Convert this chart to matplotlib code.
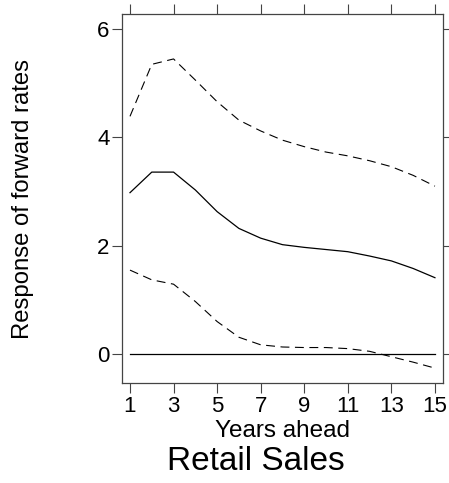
import numpy as np
import matplotlib
matplotlib.use("Agg")
import matplotlib.pyplot as plt

plt.rcParams['font.family'] = ['Liberation Sans', 'DejaVu Sans']

# impulse response of forward rates to a retail sales shock
years = np.arange(1, 16)
response = [2.98, 3.36, 3.36, 3.03, 2.63, 2.32, 2.14, 2.02, 1.97, 1.93,
            1.89, 1.81, 1.72, 1.58, 1.41]
upper_band = [4.39, 5.35, 5.45, 5.06, 4.66, 4.32, 4.12, 3.95, 3.83, 3.73,
              3.66, 3.57, 3.46, 3.30, 3.10]
lower_band = [1.55, 1.37, 1.29, 0.97, 0.60, 0.31, 0.17, 0.13, 0.12, 0.12,
              0.10, 0.05, -0.05, -0.15, -0.26]
xticks = [1, 3, 5, 7, 9, 11, 13, 15]
yticks = [0, 2, 4, 6]

W, H = 449, 483
fig = plt.figure(figsize=(W / 100, H / 100), dpi=100)
ax = fig.add_axes([122 / W, 1 - 383 / H, 321 / W, 369 / H])

ax.plot(years, np.zeros(len(years)), color='black', lw=0.9)
ax.plot(years, response, color='black', lw=0.9)
ax.plot(years, upper_band, color='black', lw=0.8, linestyle=(0, (8, 5)))
ax.plot(years, lower_band, color='black', lw=0.8, linestyle=(0, (8, 5)))

ax.set_xlim(0.633, 15.37)
ax.set_ylim(-0.535, 6.28)
ax.set_xticks(xticks)
ax.set_yticks(yticks)
ax.tick_params(axis='both', direction='out', length=7, width=0.8,
               color='#444444', labelsize=16, pad=2,
               top=True, right=True, labeltop=False, labelright=False)

for side in ax.spines.values():
    side.set_color('#444444')
    side.set_linewidth(0.9)

# axis titles placed in figure pixels
fig.text(282.5 / W, 1 - 437 / H, 'Years ahead', fontsize=17.5,
         ha='center', va='baseline')
fig.text(23 / W, 1 - 199 / H, 'Response of forward rates', fontsize=17.2,
         rotation=90, ha='center', va='center')
fig.text(255.5 / W, 1 - 470 / H, 'Retail Sales', fontsize=24,
         ha='center', va='baseline')

fig.savefig('out.png', dpi=100)
